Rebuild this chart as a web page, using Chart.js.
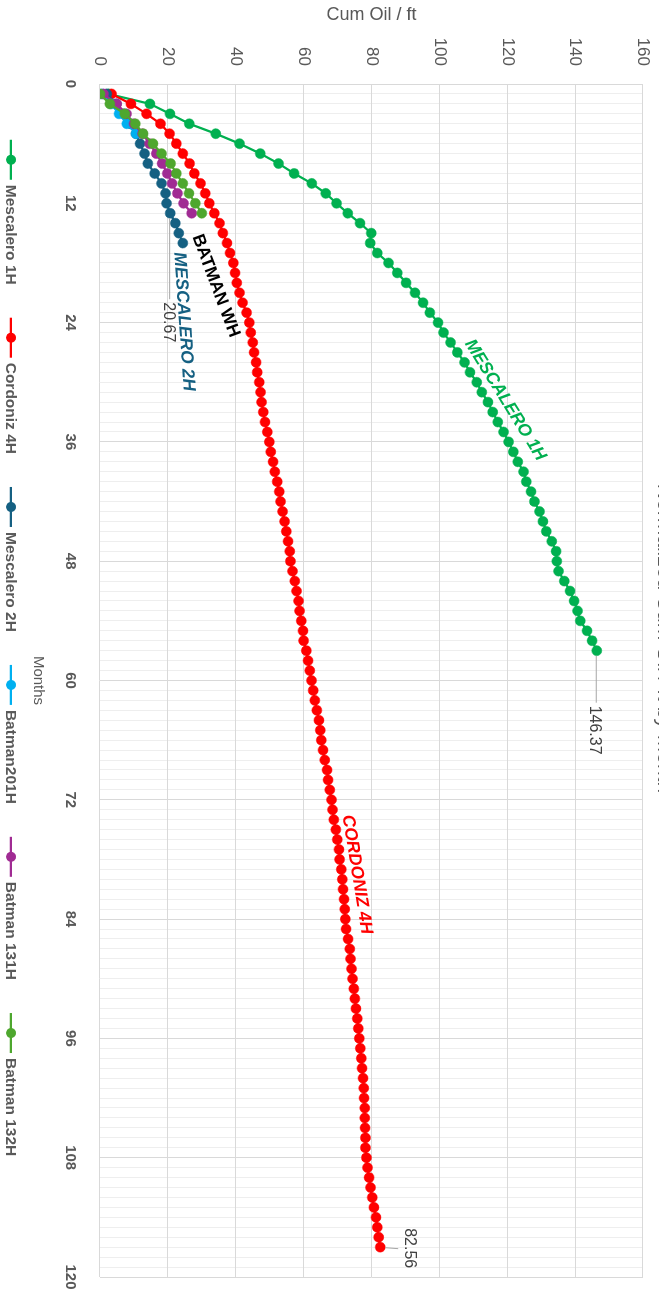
<!DOCTYPE html>
<html><head><meta charset="utf-8">
<script src="https://cdn.jsdelivr.net/npm/chart.js"></script>
<style>
html,body{margin:0;padding:0;width:659px;height:1296px;overflow:hidden;background:#fff}
#wrap{position:absolute;left:0;top:0;width:1296px;height:700px;transform-origin:0 0;transform:translate(700px,0) rotate(90deg)}
canvas{display:block}
</style></head><body>
<div id="wrap"><canvas id="c"></canvas></div>
<script>
// ---- data (months start at 1) ----
const firstMonth = 1;
const seriesNames = ['Mescalero 1H','Cordoniz 4H','Mescalero 2H','Batman201H','Batman 131H','Batman 132H'];
const seriesColors = ['#00B050','#FF0000','#156082','#00B0F0','#A02B93','#4EA72E'];
const mescalero1H = [2.5,14.7,20.6,26.3,34.1,41.1,47.2,52.6,57.2,62.4,
  66.5,69.7,73.0,76.6,79.9,79.6,81.7,85.0,87.6,90.2,
  92.8,95.2,97.2,99.6,101.2,103.3,105.3,107.4,109.0,111.0,
  112.5,114.3,115.7,117.2,118.9,120.4,121.8,123.1,124.8,125.6,
  127.0,128.0,129.5,130.5,131.5,133.1,134.4,134.6,135.1,136.8,
  138.5,139.7,140.7,141.5,143.5,145.0,146.37];
const cordoniz4H = [3.4,9.1,13.7,17.8,20.5,22.5,24.4,26.4,27.8,29.6,
  31.0,32.2,33.7,35.2,36.2,37.4,38.3,39.3,39.8,40.3,
  41.1,42.0,43.2,44.0,44.4,45.0,45.4,46.0,46.3,46.9,
  47.3,47.6,48.1,48.6,49.3,49.9,50.3,51.0,51.5,52.2,
  52.8,53.2,53.8,54.4,54.9,55.4,55.9,56.1,56.7,57.4,
  57.9,58.5,58.8,59.3,59.8,60.0,60.8,61.3,61.8,62.3,
  62.8,63.3,63.9,64.5,64.9,65.2,65.7,66.2,66.9,67.2,
  67.7,68.2,68.5,68.9,69.5,69.9,70.4,70.6,71.1,71.4,
  71.6,71.9,72.1,72.3,72.5,73.1,73.6,73.8,74.1,74.4,
  74.8,75.1,75.4,75.8,76.1,76.4,76.7,77.0,77.2,77.5,
  77.7,77.8,78.0,78.0,78.1,78.2,78.2,78.5,78.8,79.3,
  79.7,80.2,80.7,81.3,81.7,82.1,82.56];
const mescalero2H = [2.0,4.8,7.0,9.0,10.6,11.8,13.1,14.1,16.1,18.1,19.3,19.6,20.67,22.2,23.2,24.4];
const batman201H = [0.6,3.2,5.6,7.9,10.6];
const batman131H = [1.0,4.9,7.8,10.0,12.5,14.6,16.6,18.3,19.8,21.2,22.8,24.6,27.0];
const batman132H = [0.0,2.9,7.3,10.4,12.7,15.6,18.1,20.8,22.5,24.4,26.2,28.1,30.0];
const seriesValues = [mescalero1H,cordoniz4H,mescalero2H,batman201H,batman131H,batman132H];

const monthTicks = [0,12,24,36,48,60,72,84,96,108,120];
const cumTicks = [0,20,40,60,80,100,120,140,160];

const chartTitle = 'Normalized Cum Oil / ft by Month';
const xTitle = 'Months';
const yTitle = 'Cum Oil / ft';

// point labels: [series index, point index]
const pointLabels = [[0,56],[1,116],[2,12]];
// curve names
const curveNames = [
  {text:'MESCALERO 1H', month:31.8, cum:119.4, angle:-31.7, color:'#00B050', italic:true},
  {text:'CORDONIZ 4H', month:79.5, cum:75.7, angle:-9.3, color:'#FF0000', italic:true},
  {text:'BATMAN WH', month:20.3, cum:34.1, angle:-20.5, color:'#000000', italic:false},
  {text:'MESCALERO 2H', month:23.9, cum:24.7, angle:-4, color:'#156082', italic:true}
];

const FONT = "'Liberation Sans', Arial, sans-serif";
Chart.defaults.font.family = FONT;
Chart.defaults.color = '#595959';

const datasets = seriesValues.map((vals,i)=>({
  label: seriesNames[i],
  data: vals.map((v,k)=>({x:firstMonth+k, y:v})),
  borderColor: seriesColors[i],
  backgroundColor: seriesColors[i],
  pointBackgroundColor: seriesColors[i],
  pointBorderColor: seriesColors[i],
  borderWidth: 2.25,
  pointRadius: 5,
  pointBorderWidth: 0.5,
  tension: 0,
  order: 10 - i
}));

const overlay = {
  id:'overlay',
  afterDatasetsDraw(chart){
    const {ctx, scales:{x,y}} = chart;
    ctx.save();
    ctx.strokeStyle = '#A6A6A6';
    ctx.lineWidth = 1;
    ctx.fillStyle = '#404040';
    ctx.font = '16px ' + FONT;
    pointLabels.forEach(([s,k],n)=>{
      const v = seriesValues[s][k];
      const px = x.getPixelForValue(firstMonth+k), py = y.getPixelForValue(v);
      const txt = v.toFixed(2);
      ctx.beginPath();
      if (n===1){
        ctx.moveTo(px+0.5, py-5); ctx.lineTo(px+1.5, py-18); ctx.stroke();
        ctx.textAlign='center'; ctx.textBaseline='middle';
        ctx.fillText(txt, px+1, py-29);
      } else {
        const L = n===0 ? 52 : 86;
        ctx.moveTo(px+5, py+0.5); ctx.lineTo(px+L, py+0.5); ctx.stroke();
        ctx.textAlign='left'; ctx.textBaseline='middle';
        ctx.fillText(txt, px+L+3, py+2);
      }
    });
    curveNames.forEach(a=>{
      const px = x.getPixelForValue(a.month), py = y.getPixelForValue(a.cum);
      ctx.save();
      ctx.translate(px,py);
      ctx.rotate(a.angle*Math.PI/180);
      ctx.font = (a.italic?'italic ':'') + 'bold 17.5px ' + FONT;
      ctx.fillStyle = a.color;
      ctx.textAlign='center'; ctx.textBaseline='middle';
      ctx.fillText(a.text,0,0);
      ctx.restore();
    });
    ctx.restore();
  },
  afterDraw(chart){
    const ctx = chart.ctx;
    ctx.save();
    ctx.font = 'bold 15.5px ' + FONT;
    const marker = 40, gapText = 5, gapItem = 33;
    const widths = chart.data.datasets.map(d=>marker+gapText+ctx.measureText(d.label).width);
    const total = widths.reduce((a,b)=>a+b,0) + gapItem*(widths.length-1);
    let cx = (chart.width - total)/2;
    const cy = 689;
    chart.data.datasets.forEach((d,i)=>{
      ctx.strokeStyle = d.borderColor; ctx.lineWidth = 2.25;
      ctx.beginPath(); ctx.moveTo(cx,cy); ctx.lineTo(cx+marker,cy); ctx.stroke();
      ctx.fillStyle = d.borderColor;
      ctx.beginPath(); ctx.arc(cx+marker/2,cy,5,0,Math.PI*2); ctx.fill();
      ctx.fillStyle = '#595959';
      ctx.textAlign='left'; ctx.textBaseline='middle';
      ctx.fillText(d.label, cx+marker+gapText, cy+1);
      cx += widths[i] + gapItem;
    });
    ctx.restore();
  }
};

new Chart(document.getElementById('c'), {
  type:'line',
  data:{datasets},
  options:{
    responsive:true, maintainAspectRatio:false, animation:false, devicePixelRatio:1,
    layout:{padding:{left:0,right:19,top:0,bottom:0}},
    plugins:{
      legend:{display:false}, tooltip:{enabled:false},
      title:{display:true, text:chartTitle, color:'#595959', font:{size:21, weight:'normal'}, padding:{top:24, bottom:7.8}}
    },
    scales:{
      x:{type:'linear', min:0, max:120,
        afterFit(s){ s.height = 100; },
        ticks:{stepSize:1, autoSkip:false, maxTicksLimit:200, maxRotation:0, padding:3,
          color:'#595959', font:{size:15, weight:'bold'},
          callback:(v)=> monthTicks.includes(v) ? String(v) : ''},
        grid:{drawTicks:true, tickLength:18, tickColor:'rgba(0,0,0,0)', lineWidth:1,
          color:(c)=> (c.tick && monthTicks.includes(c.tick.value)) ? '#D9D9D9' : '#EEEEEE'},
        border:{display:false},
        title:{display:true, text:xTitle, color:'#595959', font:{size:15}, padding:{top:0,bottom:29}}
      },
      y:{min:0, max:160,
        afterFit(s){ s.width = 84; },
        ticks:{stepSize:20, padding:3, color:'#595959', font:{size:17},
          callback:(v)=> cumTicks.includes(v) ? String(v) : ''},
        grid:{drawTicks:true, tickLength:15, tickColor:'rgba(0,0,0,0)', color:'#D9D9D9', lineWidth:1},
        border:{display:false},
        title:{display:true, text:yTitle, color:'#595959', font:{size:18}, padding:{top:4,bottom:4}}
      }
    }
  },
  plugins:[overlay]
});
</script>
</body></html>
